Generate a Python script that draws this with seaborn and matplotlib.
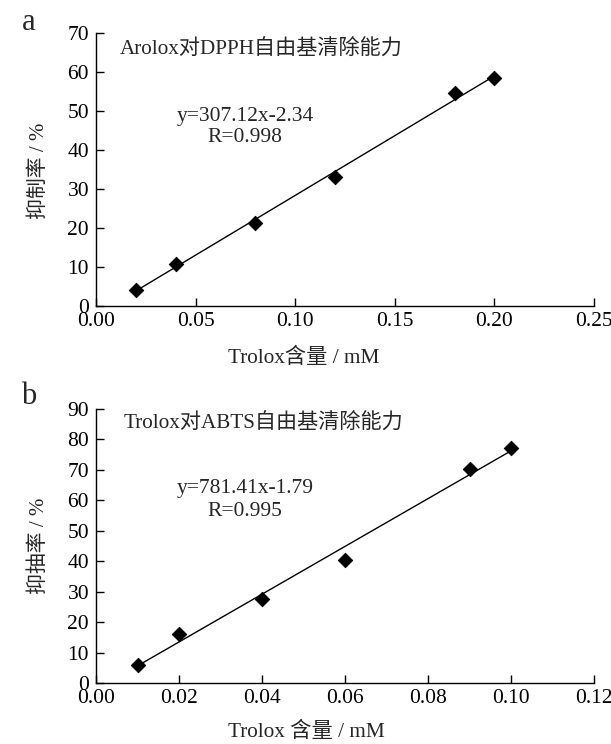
import matplotlib
matplotlib.use("Agg")
import matplotlib.pyplot as plt
import seaborn as sns
import pandas as pd

sns.set_style("ticks")
plt.rcParams['font.family'] = ['Liberation Serif', 'Noto Sans CJK SC']
plt.rcParams['axes.unicode_minus'] = False

# Panel a data (DPPH)
conc_a = [0.02, 0.04, 0.08, 0.12, 0.18, 0.20]
inhib_a = [4.2, 10.8, 21.2, 33.2, 54.5, 58.5]
xticks_a = [0.00, 0.05, 0.10, 0.15, 0.20, 0.25]
yticks_a = [0, 10, 20, 30, 40, 50, 60, 70]

# Panel b data (ABTS)
conc_b = [0.01, 0.02, 0.04, 0.06, 0.09, 0.10]
inhib_b = [6.0, 16.2, 27.6, 40.5, 70.2, 77.3]
xticks_b = [0.00, 0.02, 0.04, 0.06, 0.08, 0.10, 0.12]
yticks_b = [0, 10, 20, 30, 40, 50, 60, 70, 80, 90]

fig = plt.figure(figsize=(6.11, 7.44), dpi=100)
W, H = 611, 744

def ax_rect(l, t, r, b):
    return [l / W, 1 - b / H, (r - l) / W, (b - t) / H]

axA = fig.add_axes(ax_rect(96, 33, 594, 306))
axB = fig.add_axes(ax_rect(96, 409, 594, 683))

def draw(ax, xs, ys, xt, yt, xfmt):
    df = pd.DataFrame({"x": xs, "y": ys})
    sns.regplot(data=df, x="x", y="y", ax=ax, ci=None, truncate=True,
                scatter=False, line_kws=dict(color="black", lw=1.0))
    sns.scatterplot(data=df, x="x", y="y", ax=ax, marker="D", color="black",
                    s=55, edgecolor="black", zorder=5)
    ax.set_xlim(xt[0], xt[-1])
    ax.set_ylim(yt[0], yt[-1])
    ax.set_xticks(xt)
    ax.set_xticklabels([xfmt.format(v) for v in xt])
    ax.set_yticks(yt)
    ax.set_yticklabels([str(v) for v in yt])
    ax.set_xlabel("")
    ax.set_ylabel("")
    for s in ["top", "right"]:
        ax.spines[s].set_visible(False)
    for s in ["left", "bottom"]:
        ax.spines[s].set_linewidth(1.0)
        ax.spines[s].set_color("black")
    ax.tick_params(axis="y", direction="in", length=6, width=1, labelsize=15.5, pad=5, colors="black")
    ax.tick_params(axis="x", direction="in", length=6, width=1, labelsize=15.5, pad=4, colors="black")
    ax.set_facecolor("white")

draw(axA, conc_a, inhib_a, xticks_a, yticks_a, "{:.2f}")
draw(axB, conc_b, inhib_b, xticks_b, yticks_b, "{:.2f}")

def ftext(x, y, s, **kw):
    fig.text(x / W, 1 - y / H, s, **kw)

# panel letters
ftext(29, 22, "a", fontsize=22, ha="center", va="center")
ftext(29, 397, "b", fontsize=22, ha="center", va="center")

# titles inside
ftext(120, 50, "Arolox对DPPH自由基清除能力", fontsize=15.2, ha="left", va="center")
ftext(124, 424, "Trolox对ABTS自由基清除能力", fontsize=15.2, ha="left", va="center")

# equations
ftext(245, 116, "y=307.12x-2.34", fontsize=15.5, ha="center", va="center")
ftext(245, 138, "R=0.998", fontsize=15.5, ha="center", va="center")
ftext(245, 489, "y=781.41x-1.79", fontsize=15.5, ha="center", va="center")
ftext(245, 512, "R=0.995", fontsize=15.5, ha="center", va="center")

# axis labels
ftext(39, 171, "抑制率 / %", fontsize=15, ha="center", va="center", rotation=90)
ftext(39, 546, "抑抽率 / %", fontsize=15, ha="center", va="center", rotation=90)
ftext(304, 358, "Trolox含量 / mM", fontsize=15.3, ha="center", va="center")
ftext(306, 732, "Trolox 含量 / mM", fontsize=15.3, ha="center", va="center")

fig.savefig("out.png", dpi=100, facecolor="white")
